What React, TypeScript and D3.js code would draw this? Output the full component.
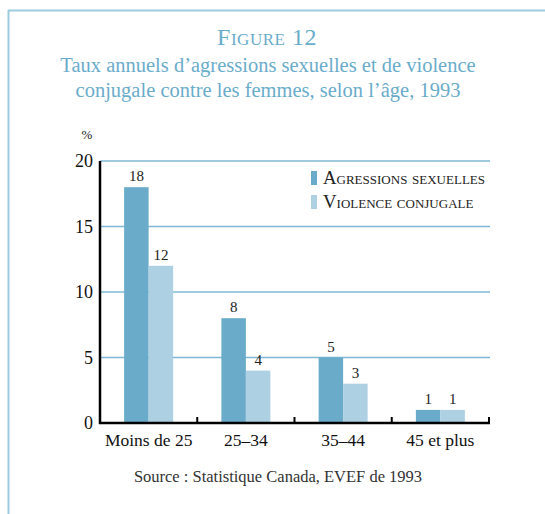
import React from 'react';
import * as d3 from 'd3';

const categories = ['Moins de 25', '25–34', '35–44', '45 et plus'];
const seriesNames = ['Agressions sexuelles', 'Violence conjugale'];
const agressions = [18, 8, 5, 1];
const violence = [12, 4, 3, 1];
const yTicks = [0, 5, 10, 15, 20];

const colors = ['#6aabca', '#add1e2'];
const gridColor = '#7db8d4';
const titleColor = '#6aaccb';
const font = '"Liberation Serif", "Times New Roman", serif';

export default function App() {
  const W = 545, H = 514;
  const x0 = 100, x1 = 489, yTop = 161, yZero = 423;

  const x = d3.scaleBand().domain(categories).range([x0, x1]);
  const xs = d3.scaleBand().domain(seriesNames).range([0, 49]);
  const y = d3.scaleLinear().domain([0, 20]).range([yZero, yTop]);
  const values = [agressions, violence];

  return (
    <svg width={W} height={H} style={{ position: 'absolute', left: 0, top: 0 }} fontFamily={font}>
      <rect width={W} height={H} fill="#fff" />
      {/* frame */}
      <line x1={8} x2={W} y1={10.5} y2={10.5} stroke="#9ccbe0" strokeWidth={2} />
      <line x1={8.5} x2={8.5} y1={10} y2={H} stroke="#9ccbe0" strokeWidth={2} />

      {/* titles */}
      <text x={267} y={45} textAnchor="middle" fill={titleColor} fontSize={24} style={{ fontVariant: 'small-caps' }} letterSpacing={0.5}>
        Figure 12
      </text>
      <text x={268} y={72} textAnchor="middle" fill={titleColor} fontSize={20.5}>
        Taux annuels d’agressions sexuelles et de violence
      </text>
      <text x={268} y={97} textAnchor="middle" fill={titleColor} fontSize={20.5}>
        conjugale contre les femmes, selon l’âge, 1993
      </text>

      {/* grid */}
      {yTicks.filter(t => t > 0).map(t => (
        <line key={t} x1={x0} x2={x1 + 1} y1={y(t)} y2={y(t)} stroke={gridColor} strokeWidth={1.5} />
      ))}

      {/* y tick labels */}
      <text x={87} y={139} textAnchor="middle" fontSize={13} fill="#222">%</text>
      {yTicks.map(t => (
        <text key={t} x={93} y={y(t) + 6} textAnchor="end" fontSize={18} fill="#111">{t}</text>
      ))}

      {/* bars */}
      {categories.map((c, i) => {
        const gx = (x(c) as number) + (x.bandwidth() - 49) / 2;
        return (
          <g key={c}>
            {seriesNames.map((s, j) => {
              const v = values[j][i];
              const bx = gx + (xs(s) as number);
              return (
                <g key={s}>
                  <rect x={bx} y={y(v)} width={xs.bandwidth()} height={yZero - y(v)} fill={colors[j]} />
                  <text x={bx + xs.bandwidth() / 2} y={y(v) - 6} textAnchor="middle" fontSize={15} fill="#222">{v}</text>
                </g>
              );
            })}
            <text x={(x(c) as number) + x.bandwidth() / 2} y={446} textAnchor="middle" fontSize={17.5} fill="#111">{c}</text>
          </g>
        );
      })}

      {/* axes */}
      <line x1={x0} x2={x0} y1={yTop} y2={yZero + 1} stroke="#000" strokeWidth={2.5} />
      <line x1={x0 - 1} x2={x1 + 1} y1={yZero} y2={yZero} stroke="#000" strokeWidth={2.5} />
      {categories.map(c => {
        const tx = (x(c) as number) + x.bandwidth();
        return <line key={c} x1={tx} x2={tx} y1={yZero} y2={yZero - 6} stroke="#000" strokeWidth={2} />;
      })}

      {/* legend */}
      {seriesNames.map((s, j) => (
        <g key={s}>
          <rect x={311} y={171 + j * 24} width={6} height={14} fill={colors[j]} />
          <text x={323} y={184 + j * 24} fontSize={18.8} fill="#222" style={{ fontVariant: 'small-caps' }}>{s}</text>
        </g>
      ))}

      {/* source */}
      <text x={278} y={482} textAnchor="middle" fontSize={16.5} fill="#333">Source : Statistique Canada, EVEF de 1993</text>
    </svg>
  );
}
